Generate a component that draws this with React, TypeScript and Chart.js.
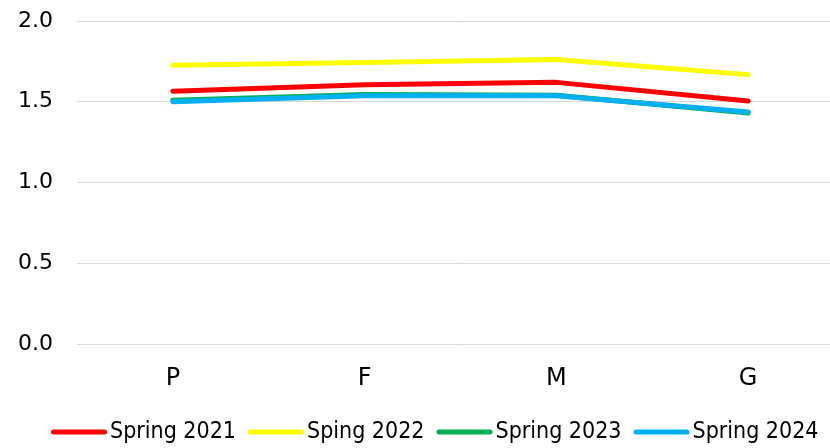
import React, { useEffect, useRef } from "react";
import { Chart, registerables } from "chart.js";

Chart.register(...registerables);

const categories = ["P", "F", "M", "G"];
const spring2021 = [1.565, 1.605, 1.62, 1.505];
const spring2022 = [1.726, 1.743, 1.762, 1.668];
const spring2023 = [1.51, 1.545, 1.54, 1.43];
const spring2024 = [1.5, 1.537, 1.537, 1.437];
const yTicks = [0, 0.5, 1.0, 1.5, 2.0];
const seriesNames = ["Spring 2021", "Sping 2022", "Spring 2023", "Spring 2024"];
const seriesColors = ["#FF0000", "#FFFF00", "#00B050", "#00B0F0"];

const FONT = "'DejaVu Sans', sans-serif";
const LEGEND_FONT = "23px 'DejaVu Sans Condensed', 'DejaVu Sans', sans-serif";

const customLegend = {
  id: "customLegend",
  afterDraw(chart: any) {
    const ctx = chart.ctx;
    ctx.save();
    ctx.font = LEGEND_FONT;
    const lineW = 56;
    const gapText = 3;
    const gapItem = 12;
    let x = 51;
    const y = 432;
    seriesNames.forEach((name, i) => {
      const w = ctx.measureText(name).width;
      ctx.strokeStyle = seriesColors[i];
      ctx.lineWidth = 5;
      ctx.lineCap = "round";
      ctx.beginPath();
      ctx.moveTo(x + 2.5, y);
      ctx.lineTo(x + lineW - 2.5, y);
      ctx.stroke();
      ctx.fillStyle = "#000";
      ctx.textBaseline = "middle";
      ctx.textAlign = "left";
      ctx.fillText(name, x + lineW + gapText, y);
      x += lineW + gapText + w + gapItem;
    });
    ctx.restore();
  },
};

export default function App() {
  const ref = useRef<HTMLCanvasElement | null>(null);
  useEffect(() => {
    if (!ref.current) return;
    const mk = (label: string, data: number[], color: string) => ({
      label,
      data,
      borderColor: color,
      backgroundColor: color,
      borderWidth: 5,
      pointRadius: 0,
      borderCapStyle: "round" as const,
      borderJoinStyle: "round" as const,
      tension: 0,
    });
    const chart = new Chart(ref.current, {
      type: "line",
      data: {
        labels: categories,
        // reversed so that Spring 2024 is painted on top
        datasets: [
          mk(seriesNames[3], spring2024, seriesColors[3]),
          mk(seriesNames[2], spring2023, seriesColors[2]),
          mk(seriesNames[1], spring2022, seriesColors[1]),
          mk(seriesNames[0], spring2021, seriesColors[0]),
        ],
      },
      plugins: [customLegend],
      options: {
        animation: false,
        responsive: false,
        maintainAspectRatio: false,
        layout: { padding: { left: 0, right: 40, top: 21, bottom: 0 } },
        plugins: {
          tooltip: { enabled: false },
          legend: { display: false },
        },
        scales: {
          x: {
            offset: true,
            grid: { display: false, drawTicks: false },
            border: { display: false },
            ticks: { color: "#000", font: { family: FONT, size: 24 }, padding: 20 },
            afterFit: (s: any) => {
              s.height = 104;
              s.paddingLeft = 0;
              s.paddingRight = 0;
            },
          },
          y: {
            min: 0,
            max: 2,
            afterBuildTicks: (s: any) => {
              s.ticks = yTicks.map((v) => ({ value: v }));
            },
            grid: { color: "#d9d9d9", lineWidth: 1, drawTicks: false },
            border: { display: false },
            ticks: {
              color: "#000",
              font: { family: FONT, size: 22 },
              padding: 24,
              callback: (v: any) => Number(v).toFixed(1),
            },
            afterFit: (s: any) => {
              s.width = 77;
              s.paddingTop = 0;
              s.paddingBottom = 0;
            },
          },
        },
      },
    });
    return () => chart.destroy();
  }, []);
  return (
    <div style={{ position: "fixed", left: 0, top: 0, width: 830, height: 448, overflow: "hidden", background: "#fff" }}>
      <canvas ref={ref} width={884} height={448} style={{ width: 884, height: 448, display: "block" }} />
    </div>
  );
}
